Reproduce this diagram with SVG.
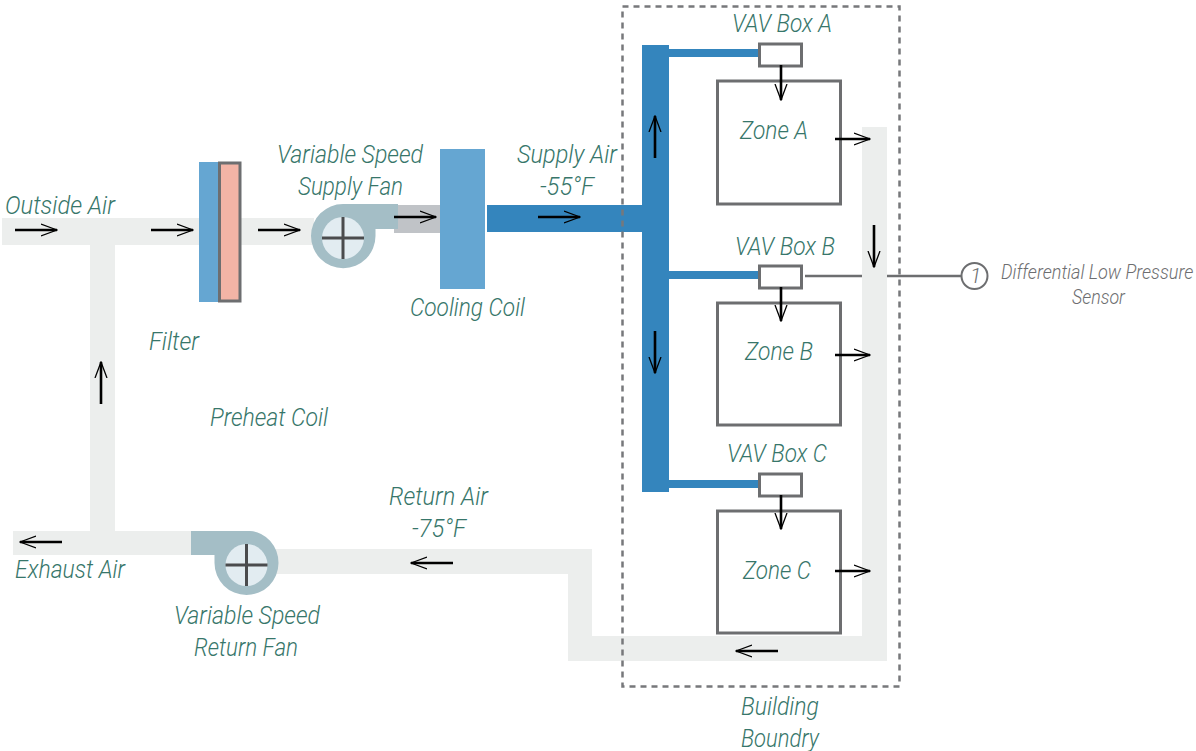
<svg xmlns="http://www.w3.org/2000/svg" width="1196" height="751" viewBox="0 0 1196 751">
<style>
.d{fill:#eceeed}
.s{fill:#3485bd}
.c{fill:#65a6d2}
.f{fill:#a4bec6}
.b{fill:#fff;stroke:#6d6e70;stroke-width:3}
.a{fill:none;stroke:#000;stroke-width:2.600}
.x{fill:none;stroke:#4a4b4d;stroke-width:3}
text{font-family:Roboto,"Liberation Sans",sans-serif;font-style:italic;font-weight:300;font-size:25px;fill:#37766a}
.g{font-size:20px;fill:#6d6e70}
</style>
<defs>
<marker id="ah" viewBox="0 0 17 14" refX="16" refY="7" markerWidth="17" markerHeight="14" markerUnits="userSpaceOnUse" orient="auto"><path d="M0 1L16 7L0 13" fill="none" stroke="#000" stroke-width="1.300"/></marker>
</defs>
<g id="ducts">
<rect class="d" x="2" y="218" width="312" height="27"/>
<rect class="d" x="90" y="245" width="25" height="286"/>
<rect class="d" x="13" y="531" width="180" height="24"/>
<path class="d" d="M270 549H592V636H862V127H887V661H568V574H270Z"/>
</g>
<g id="connectors">
<path d="M805 276H862M887 276H961" fill="none" stroke="#6d6e70" stroke-width="2.500"/>
</g>
<g id="filter">
<rect class="c" x="199" y="162" width="20" height="140"/>
<rect x="219.500" y="163" width="20.500" height="138" fill="#f3b4a6" stroke="#6d6e70" stroke-width="3"/>
</g>
<g id="supply-fan">
<rect x="394" y="205" width="46" height="28" fill="#c0c3c7"/>
<path class="f" d="M343 204H398V229H375.500V236A32 32 0 1 1 311 236A32 32 0 0 1 343 204Z"/>
<circle cx="343" cy="238" r="21" fill="#e2ecf1"/>
<path class="x" d="M343 217V259M322 238H364"/>
</g>
<g id="cooling-coil"><rect class="c" x="440" y="149" width="45" height="140"/></g>
<g id="supply-duct">
<rect class="s" x="487" y="205" width="156" height="27"/>
<rect class="s" x="642" y="45" width="27" height="447"/>
<rect class="s" x="669" y="49" width="91" height="8"/>
<rect class="s" x="669" y="271" width="91" height="8"/>
<rect class="s" x="669" y="480" width="91" height="8"/>
</g>
<g id="return-fan">
<path class="f" d="M191 531H250A30 32 0 0 1 278.500 563A32 32 0 1 1 214.500 563V555H191Z"/>
<circle cx="246.500" cy="565" r="21" fill="#e2ecf1"/>
<path class="x" d="M246.500 544V586M225.500 565H267.500"/>
</g>
<g id="zone-a"><rect class="b" x="717.500" y="81" width="123" height="123"/><text x="740" y="139" textLength="68" lengthAdjust="spacingAndGlyphs">Zone A</text></g>
<g id="zone-b"><rect class="b" x="717.500" y="303" width="123" height="122"/><text x="745" y="360" textLength="68" lengthAdjust="spacingAndGlyphs">Zone B</text></g>
<g id="zone-c"><rect class="b" x="717.500" y="511" width="123" height="122"/><text x="743" y="579" textLength="68" lengthAdjust="spacingAndGlyphs">Zone C</text></g>
<g id="vav-a"><rect class="b" x="759.500" y="44" width="42" height="22"/><text x="732" y="32" textLength="100" lengthAdjust="spacingAndGlyphs">VAV Box A</text></g>
<g id="vav-b"><rect class="b" x="759.500" y="266" width="42" height="22"/><text x="735" y="255" textLength="100" lengthAdjust="spacingAndGlyphs">VAV Box B</text></g>
<g id="vav-c"><rect class="b" x="759.500" y="474" width="42" height="22"/><text x="727" y="462" textLength="100" lengthAdjust="spacingAndGlyphs">VAV Box C</text></g>
<g id="boundary"><rect x="622.500" y="6.500" width="277" height="680" fill="none" stroke="#77787b" stroke-width="2.500" stroke-dasharray="6 5"/><text x="741" y="715" textLength="78" lengthAdjust="spacingAndGlyphs">Building</text><text x="741" y="747" textLength="78" lengthAdjust="spacingAndGlyphs">Boundry</text></g>
<g id="sensor"><circle cx="974.500" cy="276" r="13" fill="#fff" stroke="#6d6e70" stroke-width="2"/><text x="970" y="283" style="font-size:21px;fill:#6d6e70">1</text><text class="g" transform="translate(1001 279) scale(.905 1)">Differential Low Pressure</text><text class="g" transform="translate(1072 304) scale(.89 1)">Sensor</text></g>
<g id="arrows">
<path class="a" marker-end="url(#ah)" d="M15 230H57"/>
<path class="a" marker-end="url(#ah)" d="M151 230H193"/>
<path class="a" marker-end="url(#ah)" d="M258 230H300"/>
<path class="a" marker-end="url(#ah)" d="M394 217H436"/>
<path class="a" marker-end="url(#ah)" d="M538 217H580"/>
<path class="a" marker-end="url(#ah)" d="M655 158V116"/>
<path class="a" marker-end="url(#ah)" d="M655 331V373"/>
<path class="a" marker-end="url(#ah)" d="M781 65V100"/>
<path class="a" marker-end="url(#ah)" d="M781 287V321"/>
<path class="a" marker-end="url(#ah)" d="M781 495V529"/>
<path class="a" marker-end="url(#ah)" d="M835 139H870"/>
<path class="a" marker-end="url(#ah)" d="M835 355H870"/>
<path class="a" marker-end="url(#ah)" d="M835 571H870"/>
<path class="a" marker-end="url(#ah)" d="M874 225V267"/>
<path class="a" marker-end="url(#ah)" d="M778 651H736"/>
<path class="a" marker-end="url(#ah)" d="M453 563H411"/>
<path class="a" marker-end="url(#ah)" d="M62 542H20"/>
<path class="a" marker-end="url(#ah)" d="M101 404V362"/>
</g>
<g id="labels">
<text x="5" y="214" textLength="110" lengthAdjust="spacingAndGlyphs">Outside Air</text>
<text x="277" y="163" textLength="146" lengthAdjust="spacingAndGlyphs">Variable Speed</text>
<text x="298" y="195" textLength="105" lengthAdjust="spacingAndGlyphs">Supply Fan</text>
<text x="517" y="163" textLength="100" lengthAdjust="spacingAndGlyphs">Supply Air</text>
<text x="540" y="195" textLength="54" lengthAdjust="spacingAndGlyphs">-55°F</text>
<text x="410" y="316" textLength="115" lengthAdjust="spacingAndGlyphs">Cooling Coil</text>
<text x="149" y="350" textLength="50" lengthAdjust="spacingAndGlyphs">Filter</text>
<text x="210" y="426" textLength="118" lengthAdjust="spacingAndGlyphs">Preheat Coil</text>
<text x="389" y="505" textLength="99" lengthAdjust="spacingAndGlyphs">Return Air</text>
<text x="412" y="537" textLength="54" lengthAdjust="spacingAndGlyphs">-75°F</text>
<text x="15" y="578" textLength="110" lengthAdjust="spacingAndGlyphs">Exhaust Air</text>
<text x="174" y="624" textLength="146" lengthAdjust="spacingAndGlyphs">Variable Speed</text>
<text x="194" y="656" textLength="104" lengthAdjust="spacingAndGlyphs">Return Fan</text>
</g>
</svg>
